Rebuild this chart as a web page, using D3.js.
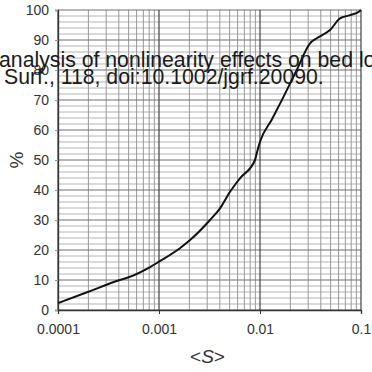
<!DOCTYPE html>
<html>
<head>
<meta charset="utf-8">
<script src="https://cdn.jsdelivr.net/npm/d3@7"></script>
<style>
  body { margin: 0; background: #fff; }
  svg { display: block; font-family: "Liberation Sans", Arial, sans-serif; }
</style>
</head>
<body>
<div id="chart"></div>
<script>
// cumulative curve
var sValues = [0.0001, 0.0002, 0.00041, 0.0005, 0.000815, 0.001, 0.00161, 0.00203, 0.0032, 0.00402, 0.00505, 0.00634, 0.00892, 0.00927, 0.01, 0.0131, 0.0158, 0.0231, 0.0313, 0.0365, 0.0493, 0.062, 0.078, 0.0977, 0.1]
var pctValues = [2.3, 6.1, 10, 10.9, 14.3, 16.1, 20.6, 23.3, 30, 33.9, 39.4, 43.9, 50, 52.2, 56.1, 63.5, 68.8, 80, 88.9, 90.6, 93.3, 97.2, 98.3, 99.7, 100]
var xTicks = [0.0001, 0.001, 0.01, 0.1]
var xTickLabels = ["0.0001", "0.001", "0.01", "0.1"]
var yTicks = [0, 10, 20, 30, 40, 50, 60, 70, 80, 90, 100]
var overlayLines = ["analysis of nonlinearity effects on bed load", "Surf., 118, doi:10.1002/jgrf.20090."]

var W = 372, H = 372
var margin = {top: 10, right: 11, bottom: 62, left: 58},
    width = W - margin.left - margin.right,
    height = H - margin.top - margin.bottom

var x = d3.scaleLog().domain([0.0001, 0.1]).range([0, width])
var y = d3.scaleLinear().domain([0, 100]).range([height, 0])

var svg = d3.select("#chart").append("svg")
    .attr("width", W)
    .attr("height", H)

var g = svg.append("g")
    .attr("transform", "translate(" + margin.left + "," + margin.top + ")")

// minor horizontal lines every 2 %
var yMinor = d3.range(0, 101, 2).filter(function(d) { return d % 10 != 0 })
g.selectAll(".hminor").data(yMinor).enter().append("line")
    .attr("x1", 0).attr("x2", width)
    .attr("y1", function(d) { return y(d) }).attr("y2", function(d) { return y(d) })
    .attr("stroke", "#b4b4b4").attr("stroke-width", 1)

// minor vertical lines 2..9 in each decade
var xMinor = []
for (var e = -4; e < -1; e++) {
  for (var k = 2; k <= 9; k++) xMinor.push(k * Math.pow(10, e))
}
g.selectAll(".vminor").data(xMinor).enter().append("line")
    .attr("x1", function(d) { return x(d) }).attr("x2", function(d) { return x(d) })
    .attr("y1", 0).attr("y2", height)
    .attr("stroke", "#9a9a9a").attr("stroke-width", 1)

// major horizontal
g.selectAll(".hmajor").data(yTicks).enter().append("line")
    .attr("x1", 0).attr("x2", width)
    .attr("y1", function(d) { return y(d) }).attr("y2", function(d) { return y(d) })
    .attr("stroke", "#707070").attr("stroke-width", 1.2)

// major vertical
g.selectAll(".vmajor").data(xTicks).enter().append("line")
    .attr("x1", function(d) { return x(d) }).attr("x2", function(d) { return x(d) })
    .attr("y1", 0).attr("y2", height)
    .attr("stroke", "#444").attr("stroke-width", 1.2)

// axes
var xAxis = d3.axisBottom(x).tickValues(xTicks)
    .tickFormat(function(d, i) { return xTickLabels[i] })
    .tickSize(4).tickPadding(10)
var yAxis = d3.axisLeft(y).tickValues(yTicks).tickSize(3).tickPadding(6)

var gx = g.append("g").attr("transform", "translate(0," + height + ")").call(xAxis)
var gy = g.append("g").call(yAxis)

gx.select(".domain").attr("stroke", "#333").attr("stroke-width", 1.3)
gy.select(".domain").attr("stroke", "#333").attr("stroke-width", 1.3)
gx.selectAll("line").attr("stroke", "#333")
gy.selectAll("line").attr("stroke", "#999")
gx.selectAll("text").attr("font-size", 14).attr("fill", "#333").attr("font-family", "Liberation Sans, Arial, sans-serif")
gy.selectAll("text").attr("font-size", 14).attr("fill", "#333").attr("font-family", "Liberation Sans, Arial, sans-serif")

// curve
var line = d3.line()
    .x(function(d, i) { return x(sValues[i]) })
    .y(function(d) { return y(d) })
    .curve(d3.curveMonotoneX)

g.append("path")
    .attr("d", line(pctValues))
    .attr("fill", "none")
    .attr("stroke", "#111")
    .attr("stroke-width", 2)

// axis titles
svg.append("text")
    .attr("x", margin.left + width / 2 - 2)
    .attr("y", 363)
    .attr("text-anchor", "middle")
    .attr("font-size", 19)
    .attr("fill", "#333")
    .html("&lt;<tspan font-style='italic'>S</tspan>&gt;")

svg.append("text")
    .attr("transform", "translate(23," + (margin.top + height / 2) + ") rotate(-90)")
    .attr("text-anchor", "middle")
    .attr("font-size", 19)
    .attr("fill", "#333")
    .text("%")

// overlaid citation text, sized so the second line spans about 320px
var over = svg.selectAll(".over").data(overlayLines).enter().append("text")
    .attr("x", function(d, i) { return i == 0 ? -1 : 4 })
    .attr("y", function(d, i) { return i == 0 ? 67 : 84 })
    .attr("font-size", 20)
    .attr("fill", "#1a1a1a")
    .text(function(d) { return d })

var len2 = over.filter(function(d, i) { return i == 1 }).node().getComputedTextLength()
over.attr("font-size", 20 * 320 / len2)
</script>
</body>
</html>
